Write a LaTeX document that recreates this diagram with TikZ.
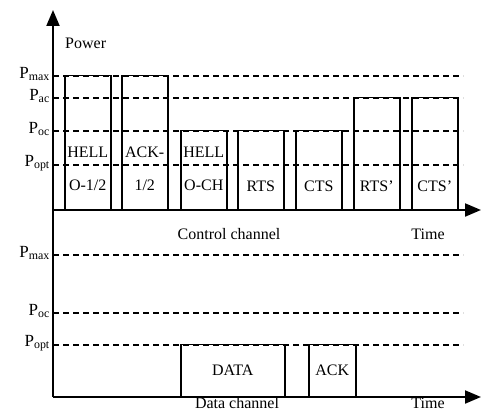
\documentclass[tikz,border=0pt]{standalone}
\usepackage{fontspec}
\setmainfont{Liberation Serif}
\usetikzlibrary{arrows.meta}
\begin{document}
\begin{tikzpicture}[x=1pt,y=-1pt,
  axisline/.style={line width=2pt},
  axisarrow/.style={line width=2pt,-{Triangle[length=16pt,width=13pt]}},
  guide/.style={line width=1.2pt,dash pattern=on 6pt off 4pt},
  pkt/.style={draw,line width=1.5pt,inner sep=0,anchor=south west},
  lbl/.style={font=\fontsize{16}{18}\selectfont,inner sep=0},
  plab/.style={font=\fontsize{17}{19}\selectfont,inner sep=0,anchor=east}]
\useasboundingbox (0,0) rectangle (481,412);
% axes
\coordinate (top) at (53,10);
\coordinate (o1) at (53,210);
\coordinate (o2) at (53,397);
\coordinate (e1) at (481,210);
\coordinate (e2) at (481,397);
% guide levels
\foreach \n/\y in {cmax/76,cac/98,coc/131,copt/165,dmax/255,doc/313,dopt/345}{
  \coordinate (l\n) at (53,\y);
  \coordinate (r\n) at (463,\y);
  \draw[guide] (l\n) -- (r\n);
}
\draw[axisline] (o2) -- (o1);
\draw[axisarrow] (o1) -- (top);
\draw[axisarrow] (o1) -- (e1);
\draw[axisarrow] (o2) -- (e2);
% labels
\node[lbl,anchor=west] (power) at (65,43) {Power};
\node[plab] (pcmax) at (50,74) {P\textsubscript{max}};
\node[plab] (pcac) at (50,96) {P\textsubscript{ac}};
\node[plab] (pcoc) at (50,129) {P\textsubscript{oc}};
\node[plab] (pcopt) at (50,163) {P\textsubscript{opt}};
\node[plab] (pdmax) at (50,253) {P\textsubscript{max}};
\node[plab] (pdoc) at (50,311) {P\textsubscript{oc}};
\node[plab] (pdopt) at (50,343) {P\textsubscript{opt}};
% control channel packets
\node[pkt,minimum width=46pt,minimum height=134pt] (h12) at (64,210) {};
\node[pkt,minimum width=46pt,minimum height=134pt] (a12) at (121,210) {};
\node[pkt,minimum width=46pt,minimum height=79pt] (hch) at (180,210) {};
\node[pkt,minimum width=46pt,minimum height=79pt] (rts) at (237,210) {};
\node[pkt,minimum width=46pt,minimum height=79pt] (cts) at (295,210) {};
\node[pkt,minimum width=46pt,minimum height=112pt] (rtsp) at (353,210) {};
\node[pkt,minimum width=46pt,minimum height=112pt] (ctsp) at (411,210) {};
\node[lbl] (h12a) at ([yshift=58pt]h12.south) {HELL};
\node[lbl] (h12b) at ([yshift=25pt]h12.south) {O-1/2};
\node[lbl] (a12a) at ([yshift=58pt]a12.south) {ACK-};
\node[lbl] (a12b) at ([yshift=25pt]a12.south) {1/2};
\node[lbl] (hcha) at ([yshift=58pt]hch.south) {HELL};
\node[lbl] (hchb) at ([yshift=25pt]hch.south) {O-CH};
\node[lbl] (rtst) at ([yshift=24pt]rts.south) {RTS};
\node[lbl] (ctst) at ([yshift=24pt]cts.south) {CTS};
\node[lbl] (rtspt) at ([yshift=24pt]rtsp.south) {RTS'};
\node[lbl] (ctspt) at ([yshift=24pt]ctsp.south) {CTS'};
\node[lbl] (cch) at (229,234) {Control channel};
\node[lbl] (ctime) at (428,234) {Time};
% data channel packets
\node[pkt,minimum width=104pt,minimum height=52pt] (data) at (180,397) {};
\node[pkt,minimum width=47pt,minimum height=52pt] (ack) at (308,397) {};
\node[lbl] (datat) at (data.center) {DATA};
\node[lbl] (ackt) at (ack.center) {ACK};
\node[lbl] (dch) at (237,403) {Data channel};
\node[lbl] (dtime) at (428,403) {Time};
\end{tikzpicture}
\end{document}
